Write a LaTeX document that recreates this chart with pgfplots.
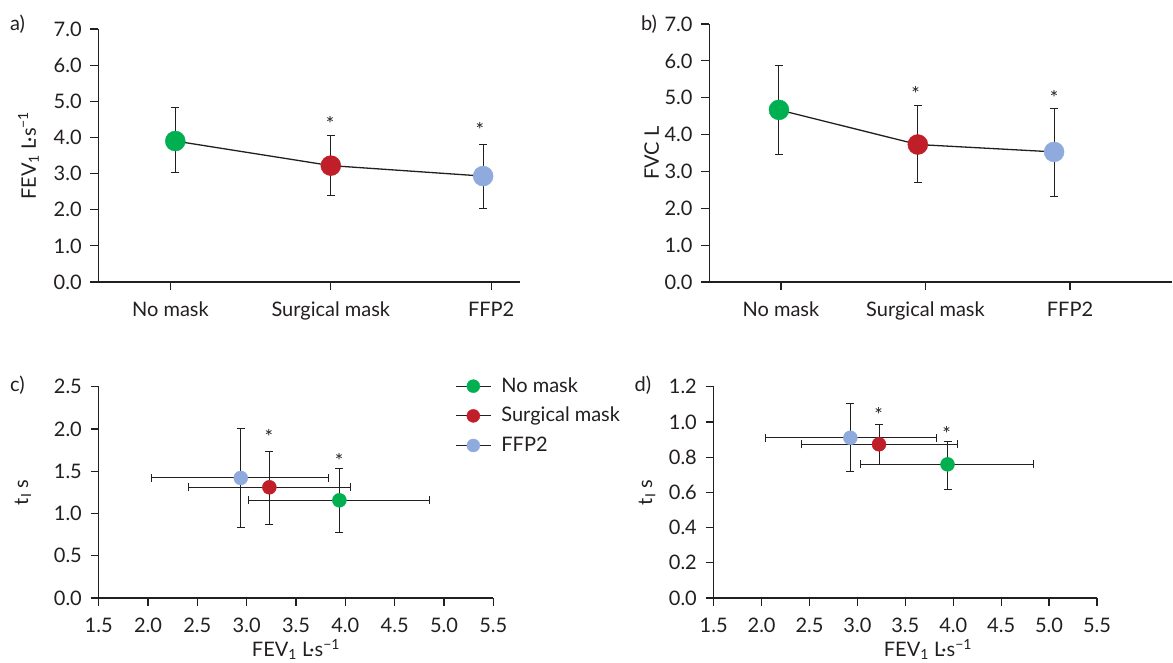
\documentclass[border=0pt]{standalone}
\usepackage{pgfplots}
\usepackage{pgfplotstable}
\pgfplotsset{compat=1.18}
\usepackage{fontspec}
\setmainfont{Lato}
\definecolor{cg}{RGB}{0,176,80}
\definecolor{cr}{RGB}{192,30,40}
\definecolor{cb}{RGB}{143,170,220}
\definecolor{ink}{RGB}{35,31,32}
\newcommand{\fs}{\fontsize{20}{24}\selectfont}

% panel a: x y err+ err-
\pgfplotstableread{
x y ep em
0.03 3.90 0.93 0.88
1.00 3.22 0.82 0.83
1.95 2.93 0.87 0.91
}\tabA
% panel b
\pgfplotstableread{
x y ep em
-0.014 4.67 1.20 1.21
0.947 3.73 1.05 1.03
1.89 3.53 1.19 1.22
}\tabB
% panel c: FEV1 vs tI
\pgfplotstableread{
x y xp xm yp ym
3.94 1.156 0.91 0.92 0.374 0.376
3.23 1.31 0.82 0.815 0.42 0.44
2.94 1.42 0.89 0.90 0.58 0.59
}\tabC
% panel d
\pgfplotstableread{
x y xp xm yp ym
3.94 0.759 0.90 0.91 0.131 0.144
3.225 0.873 0.815 0.81 0.111 0.114
2.926 0.910 0.904 0.886 0.193 0.194
}\tabD

\pgfplotsset{
  base/.style={
    scale only axis, anchor=south west, clip=false,
    axis x line=bottom, axis y line=left,
    axis line style={-, ink, line width=1.2pt},
    tick align=outside, major tick length=8pt,
    tick style={ink, line width=1.2pt},
    tick label style={font=\fs, text=ink},
    xticklabel style={yshift=-5pt},
    yticklabel style={xshift=-2pt},
    label style={font=\fs, text=ink},
    /pgf/number format/assume math mode=true,
    yticklabel style={/pgf/number format/fixed, /pgf/number format/fixed zerofill, /pgf/number format/precision=1},
  },
  errs/.style={draw=none, mark=none, forget plot,
    error bars/error bar style={draw=ink, line width=1pt},
    error bars/error mark options={rotate=90, draw=ink, line width=1pt, mark size=4pt}},
}

\begin{document}
\fs
\begin{tikzpicture}
\useasboundingbox (0,0) rectangle (1173pt,662pt);

% ---------- a ----------
\begin{axis}[base, at={(98.5pt,380pt)}, width=421.5pt, height=253pt,
  xmin=-0.449, xmax=2.18, ymin=0, ymax=7, ytick={0,1,...,7},
  xtick={0,1,2}, xticklabels={No mask, Surgical mask, FFP2},
  ylabel={FEV\textsubscript{1} L·s\textsuperscript{−1}},
  ylabel style={at={(axis description cs:-0.166,0.5)}, anchor=center}]
\addplot[errs, error bars/.cd, y dir=both, y explicit]
  table[x=x, y=y, y error plus=ep, y error minus=em] {\tabA};
\addplot[ink, line width=1.3pt, mark=none, forget plot] table[x=x, y=y] {\tabA};
\addplot[only marks, mark=*, mark size=10pt, mark options={draw=cg, fill=cg}] coordinates {(0.03,3.90)};
\addplot[only marks, mark=*, mark size=10pt, mark options={draw=cr, fill=cr}] coordinates {(1.00,3.22)};
\addplot[only marks, mark=*, mark size=10pt, mark options={draw=cb, fill=cb}] coordinates {(1.95,2.93)};
\node[text=ink] at (axis cs:0.995,4.38) {*};
\node[text=ink] at (axis cs:1.93,4.21) {*};
\end{axis}

% ---------- b ----------
\begin{axis}[base, at={(709.3pt,380pt)}, width=462.7pt, height=258pt,
  xmin=-0.496, xmax=2.706, ymin=0, ymax=7, ytick={0,1,...,7},
  xtick={0,1,2}, xticklabels={No mask, Surgical mask, FFP2},
  ylabel={FVC L},
  ylabel style={at={(axis description cs:-0.1245,0.5)}, anchor=center}]
\addplot[errs, error bars/.cd, y dir=both, y explicit]
  table[x=x, y=y, y error plus=ep, y error minus=em] {\tabB};
\addplot[ink, line width=1.3pt, mark=none, forget plot] table[x=x, y=y] {\tabB};
\addplot[only marks, mark=*, mark size=10pt, mark options={draw=cg, fill=cg}] coordinates {(-0.014,4.67)};
\addplot[only marks, mark=*, mark size=10pt, mark options={draw=cr, fill=cr}] coordinates {(0.947,3.73)};
\addplot[only marks, mark=*, mark size=10pt, mark options={draw=cb, fill=cb}] coordinates {(1.89,3.53)};
\node[text=ink] at (axis cs:0.932,5.115) {*};
\node[text=ink] at (axis cs:1.89,4.997) {*};
\end{axis}

% ---------- c ----------
\begin{axis}[base, at={(98.7pt,64pt)}, width=394.6pt, height=211.3pt,
  xmin=1.5, xmax=5.5, ymin=0, ymax=2.5,
  xtick={1.5,2,...,5.5}, ytick={0,0.5,...,2.5},
  xticklabel style={/pgf/number format/fixed, /pgf/number format/fixed zerofill, /pgf/number format/precision=1},
  ylabel={t\textsubscript{I} s},
  ylabel style={at={(axis description cs:-0.192,0.5)}, anchor=center},
  legend style={at={(axis description cs:0.903,1.055)}, anchor=north west, draw=none, fill=none,
    font=\fs, text=ink, inner sep=0pt, row sep=8pt,
    /tikz/every odd column/.append style={column sep=8pt}},
  legend cell align=left]
\addplot[errs, error bars/.cd, x dir=both, x explicit, y dir=both, y explicit]
  table[x=x, y=y, x error plus=xp, x error minus=xm, y error plus=yp, y error minus=ym] {\tabC};
\addplot[forget plot, only marks, mark=*, mark size=7pt, mark options={draw=cg, fill=cg}] coordinates {(3.94,1.156)};
\addplot[forget plot, only marks, mark=*, mark size=7pt, mark options={draw=cr, fill=cr}] coordinates {(3.23,1.31)};
\addplot[forget plot, only marks, mark=*, mark size=7pt, mark options={draw=cb, fill=cb}] coordinates {(2.94,1.42)};
\node[text=ink] at (axis cs:3.225,1.908) {*};
\node[text=ink] at (axis cs:3.936,1.619) {*};
\node[text=ink, anchor=base] at (axis description cs:0.5,-0.278) {FEV\textsubscript{1} L·s\textsuperscript{−1}};
\addlegendimage{legend image code/.code={\draw[ink, line width=1.2pt] (0pt,0pt) -- (35pt,0pt); \fill[cg] (17.5pt,0pt) circle (6.5pt);}}
\addlegendentry{No mask}
\addlegendimage{legend image code/.code={\draw[ink, line width=1.2pt] (0pt,0pt) -- (35pt,0pt); \fill[cr] (17.5pt,0pt) circle (6.5pt);}}
\addlegendentry{Surgical mask}
\addlegendimage{legend image code/.code={\draw[ink, line width=1.2pt] (0pt,0pt) -- (35pt,0pt); \fill[cb] (17.5pt,0pt) circle (6.5pt);}}
\addlegendentry{FFP2}
\end{axis}

% ---------- d ----------
\begin{axis}[base, at={(713.7pt,64pt)}, width=383.3pt, height=211.3pt,
  xmin=1.5, xmax=5.5, ymin=0, ymax=1.2,
  xtick={1.5,2,...,5.5}, ytick={0,0.2,...,1.2},
  xticklabel style={/pgf/number format/fixed, /pgf/number format/fixed zerofill, /pgf/number format/precision=1},
  xlabel={FEV\textsubscript{1} L·s\textsuperscript{−1}},
  xlabel style={at={(axis description cs:0.559,-0.278)}, anchor=base},
  ylabel={t\textsubscript{I} s},
  ylabel style={at={(axis description cs:-0.174,0.5)}, anchor=center}]
\addplot[errs, error bars/.cd, x dir=both, x explicit, y dir=both, y explicit]
  table[x=x, y=y, x error plus=xp, x error minus=xm, y error plus=yp, y error minus=ym] {\tabD};
\addplot[only marks, mark=*, mark size=7pt, mark options={draw=cg, fill=cg}] coordinates {(3.94,0.759)};
\addplot[only marks, mark=*, mark size=7pt, mark options={draw=cr, fill=cr}] coordinates {(3.225,0.873)};
\addplot[only marks, mark=*, mark size=7pt, mark options={draw=cb, fill=cb}] coordinates {(2.926,0.910)};
\node[text=ink] at (axis cs:3.22,1.038) {*};
\node[text=ink] at (axis cs:3.93,0.930) {*};
\end{axis}

\node[text=ink] at (17.5pt,637.5pt) {a)};
\node[text=ink] at (649pt,637.5pt) {b)};
\node[text=ink] at (17.5pt,276.3pt) {c)};
\node[text=ink] at (643pt,276.3pt) {d)};
\end{tikzpicture}
\end{document}
